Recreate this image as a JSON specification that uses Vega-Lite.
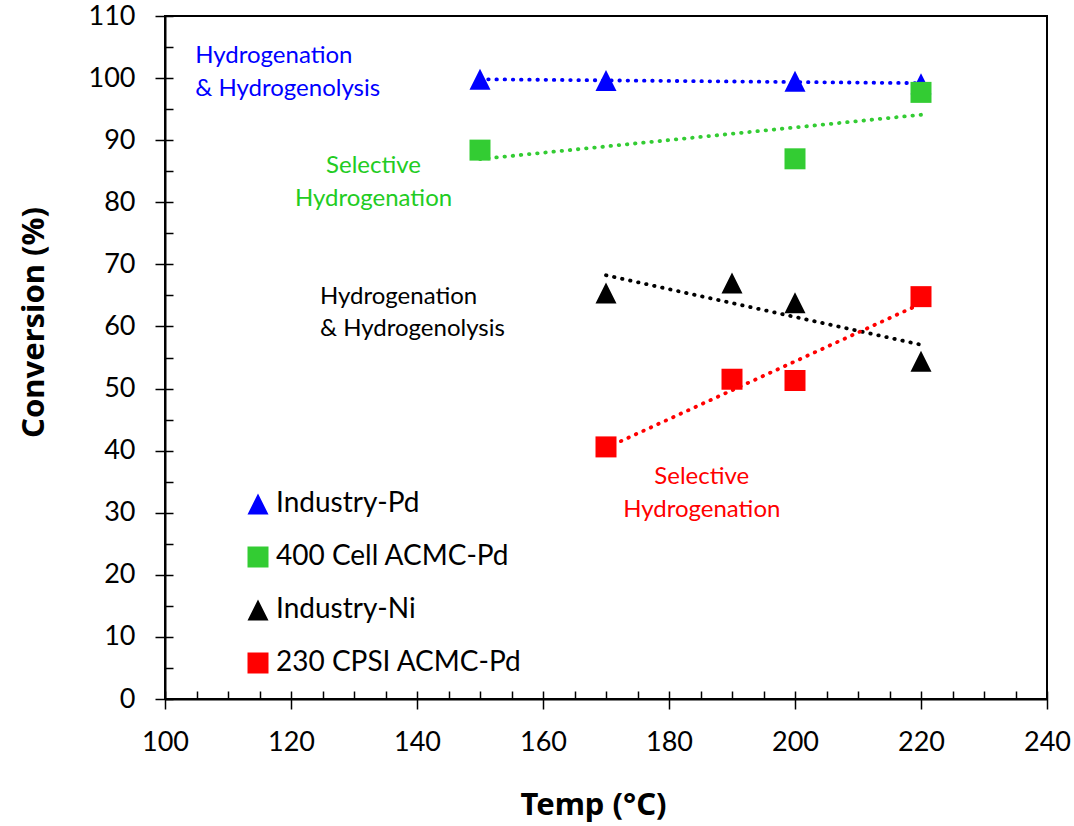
{
  "$schema": "https://vega.github.io/schema/vega-lite/v6.json",
  "width": 882,
  "height": 683,
  "autosize": {"type": "none"},
  "padding": {"left": 165, "top": 16, "right": 27, "bottom": 127},
  "background": "white",
  "config": {
    "font": "Lato",
    "view": {"stroke": "black", "strokeWidth": 2},
    "axis": {"grid": false, "domainColor": "black", "tickColor": "black", "labelColor": "black", "titleColor": "black"},
    "legend": {"orient": "none", "legendX": 79, "legendY": 474, "padding": 0, "labelFontSize": 28, "labelColor": "black", "labelOffset": 4, "labelLimit": 400, "symbolSize": 441, "rowPadding": 25, "symbolStrokeWidth": 0, "symbolOpacity": 1}
  },
  "datasets": {
    "pts": [
      {"series": "Industry-Pd", "temp": 150, "conv": 99.8},
      {"series": "Industry-Pd", "temp": 170, "conv": 99.6},
      {"series": "Industry-Pd", "temp": 200, "conv": 99.5},
      {"series": "Industry-Pd", "temp": 220, "conv": 99.1},
      {"series": "400 Cell ACMC-Pd", "temp": 150, "conv": 88.4},
      {"series": "400 Cell ACMC-Pd", "temp": 200, "conv": 87.0},
      {"series": "400 Cell ACMC-Pd", "temp": 220, "conv": 97.7},
      {"series": "Industry-Ni", "temp": 170, "conv": 65.4},
      {"series": "Industry-Ni", "temp": 190, "conv": 67.0},
      {"series": "Industry-Ni", "temp": 200, "conv": 63.8},
      {"series": "Industry-Ni", "temp": 220, "conv": 54.4},
      {"series": "230 CPSI ACMC-Pd", "temp": 170, "conv": 40.6},
      {"series": "230 CPSI ACMC-Pd", "temp": 190, "conv": 51.5},
      {"series": "230 CPSI ACMC-Pd", "temp": 200, "conv": 51.3},
      {"series": "230 CPSI ACMC-Pd", "temp": 220, "conv": 64.8}
    ],
    "notesLeft": [
      {"series": "Industry-Pd", "temp": 104.8, "conv": 103.5, "label": "Hydrogenation\n& Hydrogenolysis"},
      {"series": "Industry-Ni", "temp": 124.6, "conv": 64.8, "label": "Hydrogenation\n& Hydrogenolysis"}
    ],
    "notesCenter": [
      {"series": "400 Cell ACMC-Pd", "temp": 133.1, "conv": 85.8, "label": "Selective\nHydrogenation"},
      {"series": "230 CPSI ACMC-Pd", "temp": 185.2, "conv": 35.75, "label": "Selective\nHydrogenation"}
    ]
  },
  "layer": [
    {
      "data": {"name": "pts"},
      "transform": [{"regression": "conv", "on": "temp", "groupby": ["series"]}],
      "mark": {"type": "line", "strokeWidth": 3.8, "strokeCap": "round", "strokeDash": [0.5, 7.7]},
      "encoding": {
        "x": {"field": "temp", "type": "quantitative", "scale": {"domain": [100, 240], "nice": false, "zero": false}, "axis": null},
        "y": {"field": "conv", "type": "quantitative", "scale": {"domain": [0, 110], "nice": false}, "axis": null},
        "stroke": {"field": "series", "type": "nominal", "legend": null,
          "scale": {"domain": ["230 CPSI ACMC-Pd", "Industry-Ni", "400 Cell ACMC-Pd", "Industry-Pd"], "range": ["#FF0000", "#000000", "#33CC33", "#0000FF"]}},
        "detail": {"field": "series"}
      }
    },
    {
      "data": {"name": "pts"},
      "mark": {"type": "point", "filled": true, "opacity": 1, "size": 441},
      "encoding": {
        "x": {"field": "temp", "type": "quantitative", "scale": {"domain": [100, 240], "nice": false, "zero": false},
          "axis": {"orient": "bottom", "values": [100, 120, 140, 160, 180, 200, 220, 240], "tickSize": 10, "tickWidth": 1.5, "domainWidth": 2,
            "labelFontSize": 27, "labelPadding": 20, "labelFlush": false, "labelOverlap": false,
            "title": "Temp (°C)", "titleFont": "Noto Sans", "titleFontSize": 31, "titleFontWeight": "bold", "titleX": 428, "titleY": 106, "titleBaseline": "middle", "titleAlign": "center"}},
        "y": {"field": "conv", "type": "quantitative", "scale": {"domain": [0, 110], "nice": false},
          "axis": {"orient": "left", "values": [0, 10, 20, 30, 40, 50, 60, 70, 80, 90, 100, 110], "tickSize": 10, "tickWidth": 1.5, "domainWidth": 2,
            "labelFontSize": 27, "labelPadding": 20, "labelFlush": false, "labelOverlap": false,
            "title": "Conversion (%)", "titleFont": "Noto Sans", "titleFontSize": 31, "titleFontWeight": "bold", "titleX": -131, "titleY": 306, "titleBaseline": "middle", "titleAlign": "center", "titleAngle": -90}},
        "color": {"field": "series", "type": "nominal",
          "scale": {"domain": ["Industry-Pd", "400 Cell ACMC-Pd", "Industry-Ni", "230 CPSI ACMC-Pd"], "range": ["#0000FF", "#33CC33", "#000000", "#FF0000"]},
          "legend": {"title": null}},
        "shape": {"field": "series", "type": "nominal",
          "scale": {"domain": ["Industry-Pd", "400 Cell ACMC-Pd", "Industry-Ni", "230 CPSI ACMC-Pd"], "range": ["M0,-1L1,1L-1,1Z", "square", "M0,-1L1,1L-1,1Z", "square"]},
          "legend": {"title": null}}
      }
    },
    {
      "data": {"name": "notesLeft"},
      "mark": {"type": "text", "align": "left", "baseline": "middle", "fontSize": 24, "lineBreak": "\n", "lineHeight": 32.5},
      "encoding": {
        "x": {"field": "temp", "type": "quantitative", "axis": null},
        "y": {"field": "conv", "type": "quantitative", "axis": null},
        "text": {"field": "label"},
        "fill": {"field": "series", "type": "nominal", "legend": null,
          "scale": {"domain": ["Industry-Ni", "Industry-Pd", "230 CPSI ACMC-Pd", "400 Cell ACMC-Pd"], "range": ["#000000", "#0000FF", "#FF0000", "#22CC22"]}}
      }
    },
    {
      "data": {"name": "notesCenter"},
      "mark": {"type": "text", "align": "center", "baseline": "middle", "fontSize": 24, "lineBreak": "\n", "lineHeight": 32.5},
      "encoding": {
        "x": {"field": "temp", "type": "quantitative", "axis": null},
        "y": {"field": "conv", "type": "quantitative", "axis": null},
        "text": {"field": "label"},
        "fill": {"field": "series", "type": "nominal", "legend": null,
          "scale": {"domain": ["Industry-Ni", "Industry-Pd", "230 CPSI ACMC-Pd", "400 Cell ACMC-Pd"], "range": ["#000000", "#0000FF", "#FF0000", "#22CC22"]}}
      }
    },
    {
      "data": {"name": "pts"},
      "mark": {"type": "point", "opacity": 0},
      "encoding": {
        "x": {"field": "temp", "type": "quantitative",
          "axis": {"orient": "bottom", "values": [100, 105, 110, 115, 120, 125, 130, 135, 140, 145, 150, 155, 160, 165, 170, 175, 180, 185, 190, 195, 200, 205, 210, 215, 220, 225, 230, 235, 240],
            "tickSize": -8, "tickWidth": 1.5, "labels": false, "domain": false, "title": null}},
        "y": {"field": "conv", "type": "quantitative",
          "axis": {"orient": "left", "values": [0, 5, 10, 15, 20, 25, 30, 35, 40, 45, 50, 55, 60, 65, 70, 75, 80, 85, 90, 95, 100, 105, 110],
            "tickSize": -8, "tickWidth": 1.5, "labels": false, "domain": false, "title": null}}
      }
    }
  ],
  "resolve": {"axis": {"x": "independent", "y": "independent"}}
}
